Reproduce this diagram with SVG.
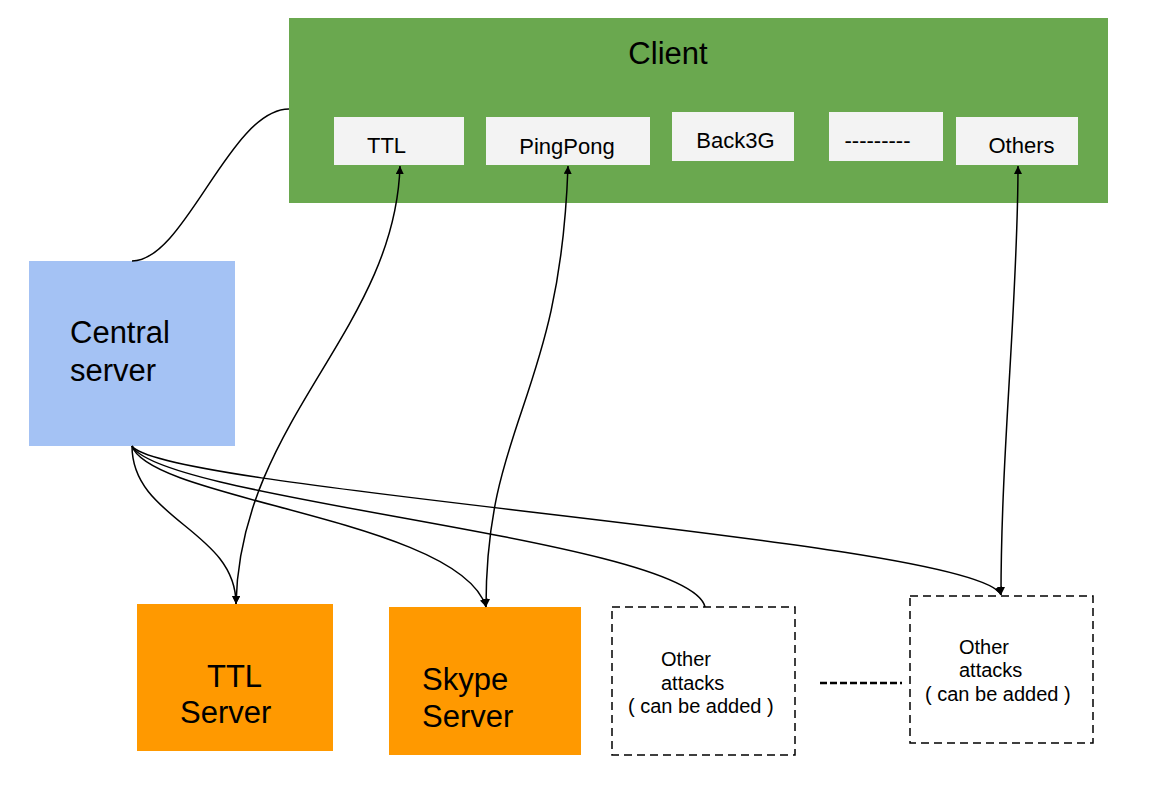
<svg xmlns="http://www.w3.org/2000/svg" width="1171" height="807" viewBox="0 0 1171 807">
<style>
text{font-family:"Liberation Sans",Arial,sans-serif;fill:#000}
.big{font-size:31px}
.sm{font-size:22px}
.xs{font-size:20px}
.sub{fill:#f3f3f3}
.dash{fill:#fff;stroke:#000;stroke-width:1.5;stroke-dasharray:8,5}
.c{fill:none;stroke:#000;stroke-width:1.5}
</style>
<defs>
<marker id="ae" viewBox="0 0 10 10" refX="10" refY="5" markerWidth="8" markerHeight="8" markerUnits="userSpaceOnUse" orient="auto"><path d="M0,0 L10,5 L0,10 z" fill="#000"/></marker>
<marker id="as" viewBox="0 0 10 10" refX="0" refY="5" markerWidth="8" markerHeight="8" markerUnits="userSpaceOnUse" orient="auto"><path d="M10,0 L0,5 L10,10 z" fill="#000"/></marker>
</defs>
<rect width="1171" height="807" fill="#fff"/>
<g id="client">
<rect x="289" y="18" width="819" height="185" fill="#6aa84f"/>
<text class="big" x="668" y="64" text-anchor="middle">Client</text>
<g id="sub-ttl"><rect class="sub" x="334" y="117" width="130" height="48"/><text class="sm" x="386.5" y="153" text-anchor="middle">TTL</text></g>
<g id="sub-pingpong"><rect class="sub" x="486" y="117" width="164" height="48"/><text class="sm" x="567" y="154" text-anchor="middle">PingPong</text></g>
<g id="sub-back3g"><rect class="sub" x="672" y="112" width="122" height="49"/><text class="sm" x="735.5" y="148" text-anchor="middle">Back3G</text></g>
<g id="sub-dashes"><rect class="sub" x="829" y="112" width="114" height="49"/><text class="sm" x="877.5" y="148" text-anchor="middle">---------</text></g>
<g id="sub-others"><rect class="sub" x="956" y="117" width="122" height="48"/><text class="sm" x="1021.5" y="153" text-anchor="middle">Others</text></g>
</g>
<g id="central">
<rect x="29" y="261" width="206" height="185" fill="#a4c2f4"/>
<text class="big" x="70" y="343">Central</text>
<text class="big" x="70" y="381">server</text>
</g>
<g id="ttl-server">
<rect x="137" y="604" width="196" height="147" fill="#ff9900"/>
<text class="big" x="207" y="687">TTL</text>
<text class="big" x="180" y="723">Server</text>
</g>
<g id="skype-server">
<rect x="389" y="607" width="192" height="148" fill="#ff9900"/>
<text class="big" x="422" y="690">Skype</text>
<text class="big" x="422" y="727">Server</text>
</g>
<g id="other1">
<rect class="dash" x="612" y="607" width="183" height="148"/>
<text class="xs" x="661" y="666">Other</text>
<text class="xs" x="661" y="690">attacks</text>
<text class="xs" x="628" y="713">( can be added )</text>
</g>
<g id="other2">
<rect class="dash" x="910" y="596" width="183" height="147"/>
<text class="xs" x="959" y="654">Other</text>
<text class="xs" x="959" y="677">attacks</text>
<text class="xs" x="925" y="701">( can be added )</text>
</g>
<g id="connectors">
<path class="c" d="M132,261 C185,261 230,109 289,109"/>
<path class="c" d="M400,166 C395,330 240,420 236,604" marker-start="url(#as)" marker-end="url(#ae)"/>
<path class="c" d="M568,166 C560,400 486,420 486,607" marker-start="url(#as)" marker-end="url(#ae)"/>
<path class="c" d="M1018,166 C1018,300 1001,450 1001,595" marker-start="url(#as)" marker-end="url(#ae)"/>
<path class="c" d="M132,446 C132,520 236,530 236,604" marker-end="url(#ae)"/>
<path class="c" d="M132,446 C150,500 460,520 486,607" marker-end="url(#ae)"/>
<path class="c" d="M132,446 C160,500 690,540 705,607"/>
<path class="c" d="M132,446 C160,490 980,540 1001,595" marker-end="url(#ae)"/>
<line x1="820" y1="683" x2="902" y2="683" stroke="#000" stroke-width="2.5" stroke-dasharray="7,3"/>
</g>
</svg>
